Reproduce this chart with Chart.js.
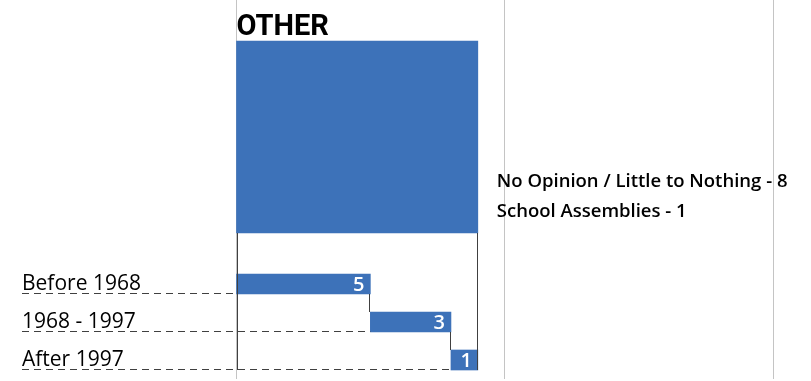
<!DOCTYPE html>
<html>
<head>
<meta charset="utf-8">
<script src="https://cdn.jsdelivr.net/npm/chart.js@4.4.1/dist/chart.umd.min.js"></script>
<style>
  html, body { margin: 0; padding: 0; background: #fff; }
  #chart { display: block; }
</style>
</head>
<body>
<canvas id="chart" width="811" height="381"></canvas>
<script>
// Data
const groupTitle = "OTHER";
const otherLabels = ["No Opinion / Little to Nothing", "School Assemblies"];
const otherValues = [8, 1];
const periods = ["Before 1968", "1968 - 1997", "After 1997"];
const periodValues = [5, 3, 1];
const gridTicks = [0, 10, 20];

const barColor = "#3d72b9";
const lineColor = "#404040";

// waterfall: each period starts where the previous one ended
let running = 0;
const periodBars = periodValues.map((v) => {
  const bar = [running, running + v];
  running += v;
  return bar;
});
const otherTotal = otherValues.reduce((a, b) => a + b, 0);

// y axes: fixed width, no label overhang padding
function fitY(s) {
  s.width = 214;
  s.paddingTop = 0;
  s.paddingBottom = 0;
}

const hiddenY = {
  type: "category",
  position: "left",
  stack: "rows",
  ticks: { display: false },
  grid: { display: false },
  border: { display: false },
  afterFit: fitY,
};

// Extra drawing: title, side notes, value labels, connectors, dashed leaders
const extras = {
  id: "extras",
  afterDatasetsDraw(chart) {
    const ctx = chart.ctx;
    const box = chart.getDatasetMeta(0).data[0].getProps(["x", "y", "base", "height"], true);
    const bars = chart.getDatasetMeta(1).data.map((el) => el.getProps(["x", "y", "base", "height"], true));
    const boxTop = box.y - box.height / 2;
    const boxBottom = box.y + box.height / 2;
    const last = bars[bars.length - 1];
    const lastBottom = last.y + last.height / 2;

    ctx.save();

    // group title
    ctx.fillStyle = "#000";
    ctx.font = "bold 29px Roboto, sans-serif";
    ctx.textAlign = "left";
    ctx.textBaseline = "alphabetic";
    ctx.fillText(groupTitle, box.base, boxTop - 6);

    // side notes
    ctx.font = "600 18.5px 'Open Sans', sans-serif";
    otherLabels.forEach((lbl, i) => {
      ctx.fillText(lbl + " - " + otherValues[i], box.x + 19, boxBottom - 46 + i * 30);
    });

    // solid lines
    ctx.strokeStyle = lineColor;
    ctx.lineWidth = 1;
    ctx.beginPath();
    ctx.moveTo(Math.round(box.base) + 0.5, boxBottom);
    ctx.lineTo(Math.round(box.base) + 0.5, lastBottom);
    ctx.moveTo(Math.round(box.x) - 0.5, boxBottom);
    ctx.lineTo(Math.round(box.x) - 0.5, lastBottom);
    for (let i = 0; i < bars.length - 1; i++) {
      const a = bars[i], b = bars[i + 1];
      ctx.moveTo(Math.round(a.x) - 0.5, a.y + a.height / 2);
      ctx.lineTo(Math.round(a.x) - 0.5, b.y - b.height / 2);
    }
    ctx.stroke();

    // dashed leaders under category labels
    ctx.setLineDash([7, 5]);
    ctx.beginPath();
    bars.forEach((b) => {
      const yy = Math.round(b.y + b.height / 2) - 0.5;
      ctx.moveTo(22, yy);
      ctx.lineTo(b.base, yy);
    });
    ctx.stroke();
    ctx.setLineDash([]);

    // values inside bars
    ctx.fillStyle = "#fff";
    ctx.font = "600 20px 'Open Sans', sans-serif";
    ctx.textAlign = "right";
    ctx.textBaseline = "middle";
    bars.forEach((b, i) => {
      ctx.fillText(String(periodValues[i]), b.x - 6, b.y + 1);
    });

    ctx.restore();
  },
};

new Chart(document.getElementById("chart"), {
  type: "bar",
  data: {
    labels: periods,
    datasets: [
      {
        label: groupTitle,
        data: [otherTotal],
        yAxisID: "yOther",
        backgroundColor: barColor,
        barThickness: 192,
        grouped: false,
      },
      {
        label: "Periods",
        data: periodBars,
        yAxisID: "y",
        backgroundColor: barColor,
        barThickness: 20,
        grouped: false,
      },
    ],
  },
  options: {
    indexAxis: "y",
    responsive: false,
    animation: false,
    layout: { padding: { left: 22, right: 0, top: 0, bottom: 2 } },
    plugins: { legend: { display: false }, tooltip: { enabled: false } },
    scales: {
      x: {
        min: 0,
        max: 21.4,
        ticks: { display: false },
        afterBuildTicks: (s) => { s.ticks = gridTicks.map((v) => ({ value: v })); },
        grid: { color: "#c4c4c4", drawTicks: false },
        border: { display: false },
      },
      // stacked left axes: later ones sit higher
      y: {
        type: "category",
        labels: periods,
        position: "left",
        stack: "rows",
        stackWeight: 114,
        ticks: {
          autoSkip: false,
          crossAlign: "far",
          color: "#000",
          font: { family: "'Open Sans', sans-serif", size: 21 },
        },
        grid: { display: false },
        border: { display: false },
        afterFit: fitY,
      },
      yOther: { ...hiddenY, labels: [groupTitle], stackWeight: 256 },
      ySpace: { ...hiddenY, labels: [""], stackWeight: 9 },
    },
  },
  plugins: [extras],
});
</script>
</body>
</html>
